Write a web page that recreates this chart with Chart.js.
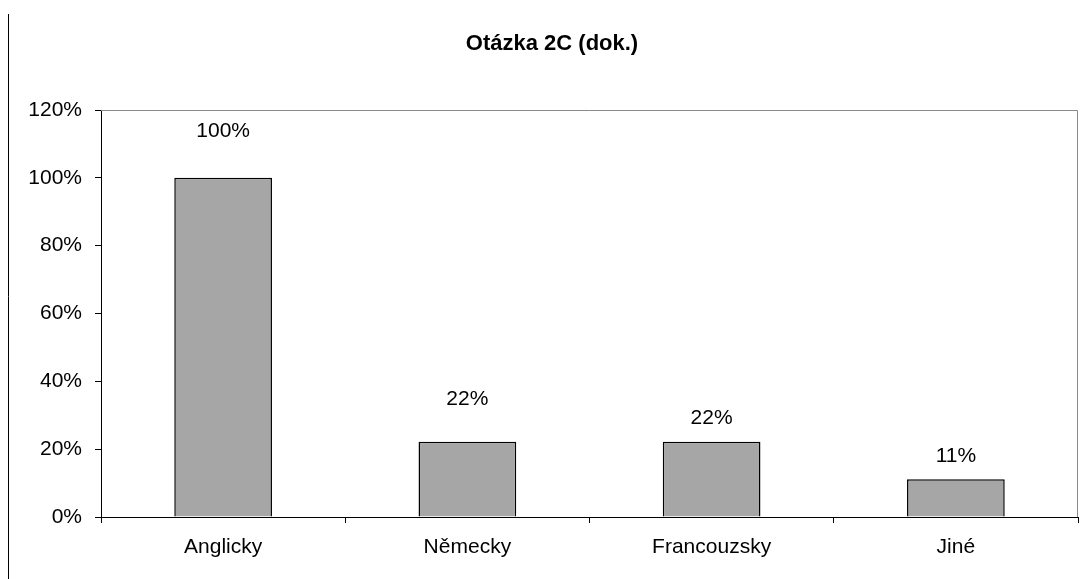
<!DOCTYPE html>
<html>
<head>
<meta charset="utf-8">
<script src="https://cdn.jsdelivr.net/npm/chart.js@4"></script>
<style>
html,body{margin:0;padding:0;background:#fff;}
#wrap{width:1085px;height:579px;position:relative;}
</style>
</head>
<body>
<div id="wrap"><canvas id="c" width="1085" height="579"></canvas></div>
<script>
const categories = ["Anglicky", "Německy", "Francouzsky", "Jiné"];
const values = [100, 22.2, 22.2, 11.1];
const valueLabels = ["100%", "22%", "22%", "11%"];
const yTicks = [0, 20, 40, 60, 80, 100, 120];
const chartTitle = "Otázka 2C (dok.)";

const FONT = "'Liberation Sans', Arial, sans-serif";

const decor = {
  id: 'decor',
  afterDraw(chart, args, opts) {
    const ctx = chart.ctx;
    const a = chart.chartArea;
    ctx.save();
    // outer frame left line
    ctx.strokeStyle = '#000';
    ctx.lineWidth = 1;
    ctx.beginPath();
    ctx.moveTo(8.5, 14);
    ctx.lineTo(8.5, 579);
    ctx.stroke();
    // plot area top/right border
    ctx.strokeStyle = '#8a8a8a';
    ctx.beginPath();
    ctx.moveTo(a.left, a.top + 0.5);
    ctx.lineTo(a.right - 0.5, a.top + 0.5);
    ctx.lineTo(a.right - 0.5, a.bottom);
    ctx.stroke();
    // title
    ctx.fillStyle = '#000';
    ctx.font = "bold 22px " + FONT;
    ctx.textAlign = 'center';
    ctx.textBaseline = 'middle';
    ctx.fillText(chartTitle, 552, 44);
    // value labels
    ctx.font = "21px " + FONT;
    const meta = chart.getDatasetMeta(0);
    meta.data.forEach((bar, i) => {
      ctx.fillText(valueLabels[i], bar.x, bar.y - opts.offsets[i]);
    });
    ctx.restore();
  }
};

new Chart(document.getElementById('c'), {
  type: 'bar',
  data: {
    labels: categories,
    datasets: [{
      data: values,
      backgroundColor: '#a6a6a6',
      borderColor: '#000',
      borderWidth: 1.5,
      barPercentage: 0.4,
      categoryPercentage: 1.0
    }]
  },
  options: {
    responsive: false,
    animation: false,
    layout: { padding: { left: 0, right: 7, top: 110, bottom: 0 } },
    plugins: {
      legend: { display: false },
      tooltip: { enabled: false },
      title: { display: false },
      decor: { offsets: [47, 43, 24, 23] }
    },
    scales: {
      x: {
        grid: { display: true, drawOnChartArea: false, drawTicks: true, tickLength: 6, offset: true, color: '#000' },
        border: { display: true, color: '#000', width: 1 },
        ticks: { color: '#000', font: { family: FONT, size: 21 }, padding: 12, maxRotation: 0 },
        afterFit: s => { s.height = 62; }
      },
      y: {
        min: 0, max: 120,
        afterBuildTicks: s => { s.ticks = yTicks.map(v => ({ value: v })); },
        grid: { display: true, drawOnChartArea: false, drawTicks: true, tickLength: 6, color: '#000' },
        border: { display: true, color: '#000', width: 1 },
        ticks: { color: '#000', font: { family: FONT, size: 21 }, padding: 13, callback: v => v + '%' },
        afterFit: s => { s.width = 101; }
      }
    }
  },
  plugins: [decor]
});
</script>
</body>
</html>
